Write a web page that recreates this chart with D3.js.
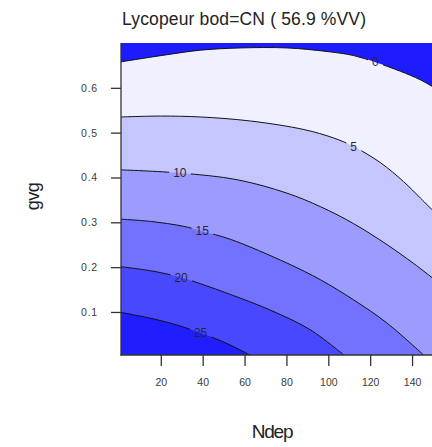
<!DOCTYPE html>
<html>
<head>
<meta charset="utf-8">
<script src="https://cdn.jsdelivr.net/npm/d3@7"></script>
<style>
  html, body { margin: 0; padding: 0; background: #ffffff; }
  svg { display: block; font-family: "Liberation Sans", Arial, sans-serif; }
</style>
</head>
<body>
<svg id="chart" width="432" height="447"></svg>
<script>
// Contour levels of the fitted response and the fill for each band
const levels = [0, 5, 10, 15, 20, 25];
const bandColors = ["#1c1cff", "#f0f0ff", "#c6c6ff", "#9c9cff", "#7272ff", "#4848ff", "#1e1eff"];

// Iso-lines as [Ndep, gvg] vertices, left edge to right/bottom edge
const contour0 = [[1, 0.658], [23.1, 0.674], [38.9, 0.684], [58.0, 0.689], [80.3, 0.689],
  [99.4, 0.681], [112.1, 0.672], [122.5, 0.657], [134.4, 0.637], [143.9, 0.618], [150, 0.602]];
const contour5 = [[1, 0.535], [19.9, 0.537], [39.0, 0.535], [62.8, 0.526], [88.3, 0.507],
  [102.6, 0.488], [112.1, 0.469], [124.9, 0.433], [135.9, 0.391], [144.0, 0.354], [150, 0.326]];
const contour10 = [[1, 0.417], [29.1, 0.410], [56.5, 0.395], [80.3, 0.365], [96.2, 0.335],
  [112.1, 0.297], [128.1, 0.250], [140.8, 0.208], [150, 0.175]];
const contour15 = [[1, 0.307], [15.1, 0.302], [31.0, 0.291], [39.8, 0.280], [53.3, 0.262],
  [80.3, 0.209], [96.2, 0.172], [112.1, 0.127], [128.1, 0.075], [145.5, 0.004]];
const contour20 = [[1, 0.201], [15.1, 0.192], [24.6, 0.183], [29.7, 0.177], [35.8, 0.168],
  [53.3, 0.139], [72.4, 0.104], [91.5, 0.060], [107.4, 0.004]];
const contour25 = [[1, 0.099], [15.1, 0.086], [24.6, 0.075], [31.0, 0.066], [39.0, 0.053],
  [46.9, 0.039], [53.3, 0.026], [62.5, 0.004]];
const contours = [contour0, contour5, contour10, contour15, contour20, contour25];

// Where each level's label sits on its line
const labelPos = [[122.5, 0.657], [112.1, 0.469], [29.1, 0.410], [39.8, 0.280], [29.7, 0.177], [39.0, 0.053]];

const xTicks = [20, 40, 60, 80, 100, 120, 140];
const yTicks = [0.1, 0.2, 0.3, 0.4, 0.5, 0.6];
const xDomain = [1, 150];
const yDomain = [0.004, 0.7];

const titleText = "Lycopeur bod=CN ( 56.9 %VV)";
const xLabel = "Ndep";
const yLabel = "gvg";

const svg = d3.select("#chart");
const plot = { left: 121, right: 433, top: 43, bottom: 355 };

const x = d3.scaleLinear().domain(xDomain).range([plot.left, plot.right]);
const y = d3.scaleLinear().domain(yDomain).range([plot.bottom, plot.top]);

const defs = svg.append("defs");
defs.append("clipPath").attr("id", "plotClip")
  .append("rect")
  .attr("x", plot.left).attr("y", plot.top)
  .attr("width", plot.right - plot.left).attr("height", plot.bottom - plot.top);

const line = d3.line()
  .x(d => x(d[0]))
  .y(d => y(d[1]))
  .curve(d3.curveCatmullRom.alpha(0.5));

const fillG = svg.append("g").attr("clip-path", "url(#plotClip)");

// Band below the lowest level covers the whole plot
fillG.append("rect")
  .attr("x", plot.left).attr("y", plot.top)
  .attr("width", plot.right - plot.left).attr("height", plot.bottom - plot.top)
  .attr("fill", bandColors[0]);

// Each level paints the region where the response exceeds it
contours.forEach((pts, i) => {
  const last = pts[pts.length - 1];
  const d = line(pts) +
    `L${x(last[0]) + 2},${y(last[1])}` +
    `L${x(last[0]) + 2},${plot.bottom + 2}` +
    `L${plot.left - 2},${plot.bottom + 2}` +
    `L${plot.left - 2},${y(pts[0][1])}Z`;
  fillG.append("path").attr("d", d).attr("fill", bandColors[i + 1]);
});

// Contour labels, measured first so the lines can be broken around them
const labelG = svg.append("g").attr("clip-path", "url(#plotClip)");
const labels = labelG.selectAll("text")
  .data(levels)
  .join("text")
  .attr("x", (d, i) => x(labelPos[i][0]))
  .attr("y", (d, i) => y(labelPos[i][1]))
  .attr("dy", "0.35em")
  .attr("text-anchor", "middle")
  .attr("font-size", 12)
  .attr("fill", "#26263a")
  .text(d => d);

const mask = defs.append("mask").attr("id", "labelGaps")
  .attr("maskUnits", "userSpaceOnUse")
  .attr("x", 0).attr("y", 0).attr("width", 432).attr("height", 447);
mask.append("rect").attr("x", 0).attr("y", 0).attr("width", 432).attr("height", 447).attr("fill", "white");
labels.each(function () {
  const b = this.getBBox();
  mask.append("rect")
    .attr("x", b.x - 4).attr("y", b.y - 1)
    .attr("width", b.width + 8).attr("height", b.height + 2)
    .attr("fill", "black");
});

const lineG = svg.insert("g", () => labelG.node())
  .attr("clip-path", "url(#plotClip)")
  .append("g")
  .attr("mask", "url(#labelGaps)");
lineG.selectAll("path")
  .data(contours)
  .join("path")
  .attr("d", line)
  .attr("fill", "none")
  .attr("stroke", "#111111")
  .attr("stroke-width", 1);

// Axes
const axisColor = "#333333";
const xAxis = svg.append("g")
  .attr("transform", `translate(0,${plot.bottom})`)
  .call(d3.axisBottom(x).tickValues(xTicks).tickSize(11).tickPadding(13).tickFormat(d3.format("d")));
const yAxis = svg.append("g")
  .attr("transform", `translate(${plot.left},0)`)
  .call(d3.axisLeft(y).tickValues(yTicks).tickSize(10).tickPadding(13).tickFormat(d3.format(".1f")));

[xAxis, yAxis].forEach(g => {
  g.select(".domain").remove();
  g.selectAll(".tick line").attr("stroke", axisColor).attr("stroke-width", 1.3);
  g.selectAll(".tick text")
    .attr("fill", "#3a3a3a")
    .attr("font-size", 10.5)
    .attr("font-family", "Liberation Sans, Arial, sans-serif");
});
yAxis.selectAll(".tick text").attr("letter-spacing", 0.8);

svg.append("line")
  .attr("x1", plot.left).attr("x2", plot.left)
  .attr("y1", plot.top).attr("y2", plot.bottom + 0.6)
  .attr("stroke", axisColor).attr("stroke-width", 1.3);
svg.append("line")
  .attr("x1", plot.left - 0.6).attr("x2", plot.right)
  .attr("y1", plot.bottom).attr("y2", plot.bottom)
  .attr("stroke", axisColor).attr("stroke-width", 1.3);

// Title and axis titles
svg.append("text")
  .attr("x", 122).attr("y", 25)
  .attr("font-size", 17.5)
  .attr("letter-spacing", 0.15)
  .attr("fill", "#222222")
  .text(titleText);

svg.append("text")
  .attr("x", 272).attr("y", 438)
  .attr("text-anchor", "middle")
  .attr("font-size", 19)
  .attr("letter-spacing", -1.2)
  .attr("fill", "#222222")
  .text(xLabel);

svg.append("text")
  .attr("transform", "translate(38.5,196.5) rotate(-90)")
  .attr("text-anchor", "middle")
  .attr("font-size", 18)
  .attr("letter-spacing", -0.5)
  .attr("fill", "#222222")
  .text(yLabel);
</script>
</body>
</html>
